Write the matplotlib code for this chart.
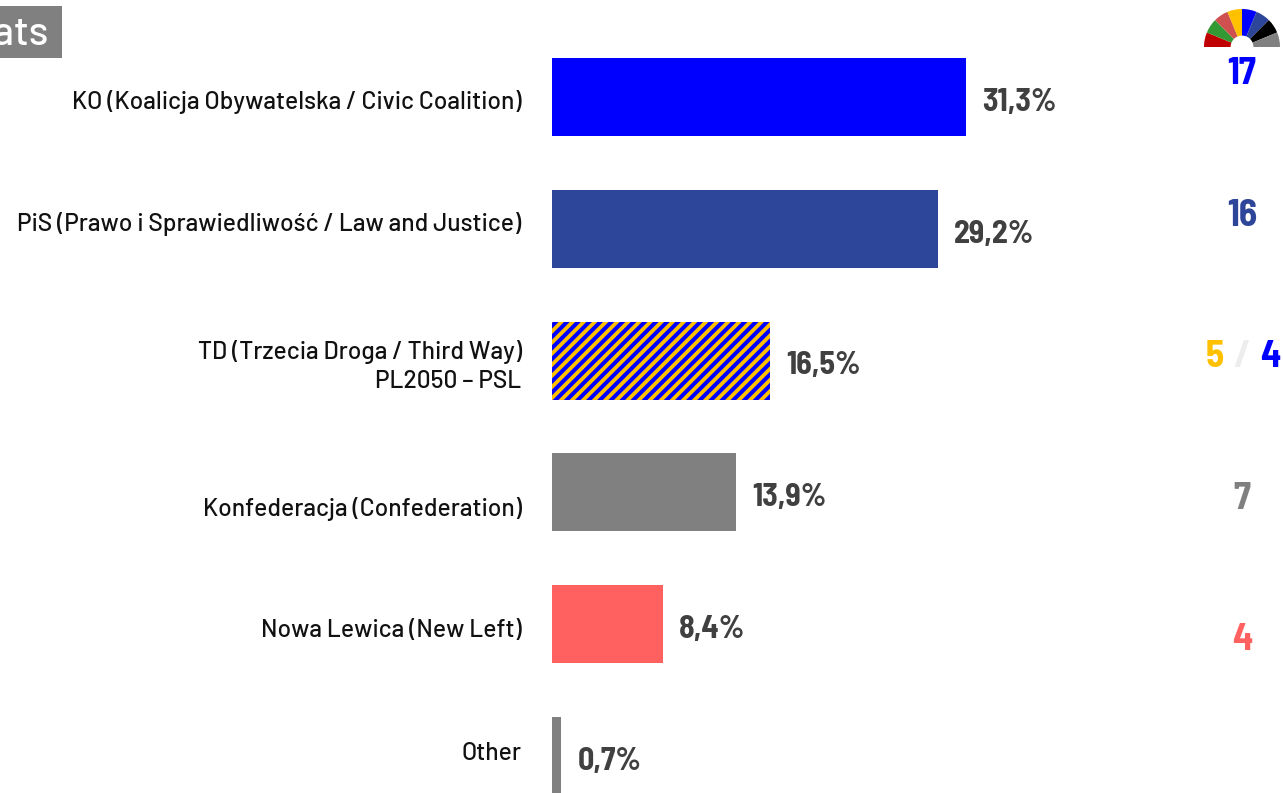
import matplotlib
matplotlib.use("Agg")
import matplotlib.pyplot as plt
from matplotlib.patches import Wedge, Rectangle

W, H = 1283, 793
parties = ["KO (Koalicja Obywatelska / Civic Coalition)",
           "PiS (Prawo i Sprawiedliwość / Law and Justice)",
           "TD (Trzecia Droga / Third Way)\nPL2050 – PSL",
           "Konfederacja (Confederation)",
           "Nowa Lewica (New Left)",
           "Other"]
shares = [31.3, 29.2, 16.5, 13.9, 8.4, 0.7]
share_labels = ["31,3%", "29,2%", "16,5%", "13,9%", "8,4%", "0,7%"]
colors = ["#0000FF", "#2E4699", "#FFC000", "#808080", "#FF6161", "#808080"]
seats = ["17", "16", None, "7", "4", None]
seat_colors = ["#0000FF", "#2E4699", None, "#808080", "#FF6161", None]
td_seats = ["5", "4"]
td_colors = ["#FFC000", "#0000FF"]
icon_colors = ["#C00000", "#339933", "#D05050", "#FFC000", "#0000FF", "#2E4699", "#000000", "#808080"]
title = "Seats"

LABEL_FONT = ["Barlow", "Roboto", "DejaVu Sans"]
VALUE_FONT = ["Barlow Semi Condensed", "Roboto", "DejaVu Sans"]
plt.rcParams["hatch.linewidth"] = 2.9

fig = plt.figure(figsize=(W/100, H/100), dpi=100, facecolor="white")
ax = fig.add_axes([0, 0, 1, 1])
px_per_unit = 13.22
step, y0 = 131.8, 97
ax.set_xlim(-552/px_per_unit, (W-552)/px_per_unit)
ax.set_ylim((H-y0)/step, -y0/step)
ax.axis("off")

pos = list(range(len(shares)))
bars = ax.barh(pos, shares, height=78/step, color=colors, linewidth=0)
bars[2].set_hatch("///")
bars[2].set_edgecolor("#0000FF")

def px(xp, yp):
    return xp/W, 1 - yp/H

label_y = [102, 224, 366.5, 509, 631, 753]
value_y = [102.5, 234.5, 365.5, 497.5, 629.5, 761.5]
for i, (name, v, lab) in enumerate(zip(parties, shares, share_labels)):
    fig.text(*px(521.5, label_y[i]), name, ha="right", va="center", fontsize=17.7,
             family=LABEL_FONT, fontweight=500, color="#111111", linespacing=1.3, multialignment="right")
    yc = y0 + step*i
    ax.annotate(lab, (v, i), xytext=(16*0.72, (yc - value_y[i])*0.72), textcoords="offset points",
                ha="left", va="center", fontsize=23, fontweight="bold", family=VALUE_FONT, color="#404040")

for s, c, y in zip([s for s in seats if s], [c for c in seat_colors if c], [74, 216, 499, 640]):
    fig.text(*px(1242, y), s, ha="center", va="center", fontsize=27, fontweight="bold",
             family=VALUE_FONT, color=c)
fig.text(*px(1215, 357), td_seats[0], ha="center", va="center", fontsize=27, fontweight="bold",
         family=VALUE_FONT, color=td_colors[0])
fig.text(*px(1242, 357), "/", ha="center", va="center", fontsize=27, fontweight="bold",
         family=VALUE_FONT, color="#EDEDED")
fig.text(*px(1270, 357), td_seats[1], ha="center", va="center", fontsize=27, fontweight="bold",
         family=VALUE_FONT, color=td_colors[1])

# title box, cut by the left edge
fig.patches.append(Rectangle(px(0, 58), 62/W, 52/H, transform=fig.transFigure, figure=fig,
                             facecolor="#808080", edgecolor="none"))
fig.text(*px(49, 35), title, ha="right", va="center", fontsize=29, fontweight=500, family=LABEL_FONT, color="white")

# hemicycle icon
cx, cy, R = 1242, 47, 38
iax = fig.add_axes([(cx-R)/W, 1-cy/H, 2*R/W, R/H])
iax.set_xlim(-1, 1); iax.set_ylim(0, 1); iax.axis("off")
n = len(icon_colors)
for k, c in enumerate(icon_colors):
    iax.add_patch(Wedge((0, 0), 1, 180 - (k+1)*180/n, 180 - k*180/n, width=0.7,
                        facecolor=c, edgecolor="none"))

fig.savefig("out.png", dpi=100)
